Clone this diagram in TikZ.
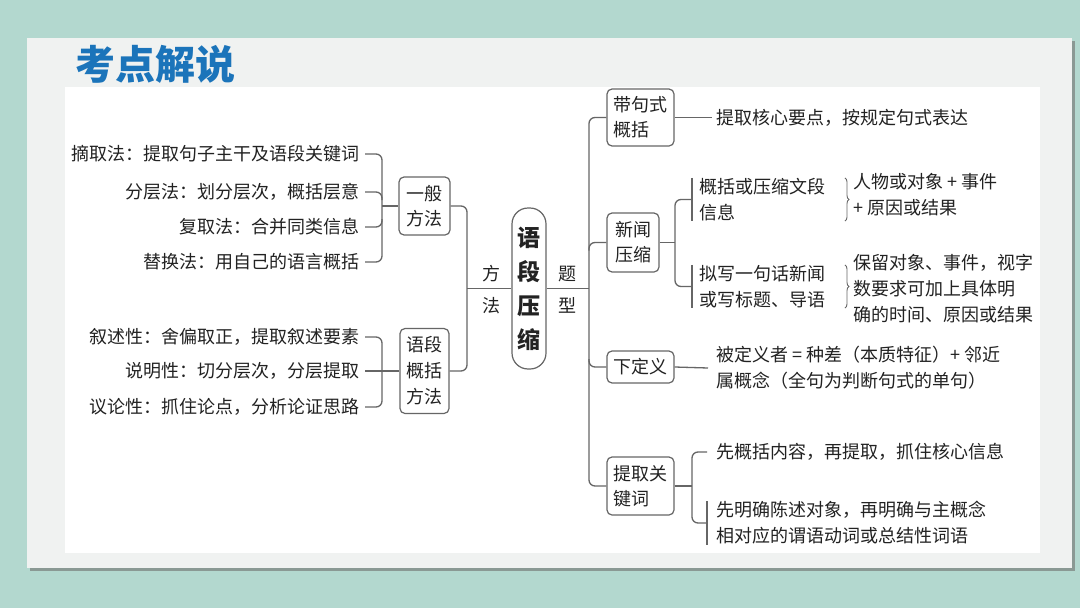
\documentclass[tikz,border=0pt]{standalone}
\usepackage{fontspec}
\setmainfont{Noto Sans CJK SC}
\usetikzlibrary{decorations.pathreplacing,calc}
\definecolor{bgteal}{HTML}{B3D8CF}
\definecolor{cardc}{HTML}{F0F2F1}
\definecolor{shadowc}{HTML}{8A9994}
\definecolor{titleblue}{HTML}{1B74BA}
\definecolor{linec}{HTML}{666666}
\definecolor{txt}{HTML}{222222}
\begin{document}
\begin{tikzpicture}[x=1pt,y=-1pt,
  every node/.style={text=txt, font=\fontsize{18}{26}\selectfont},
  item/.style={inner sep=0pt, anchor=east},
  rtext/.style={inner sep=0pt, anchor=west, align=left},
  box/.style={draw=linec, line width=1.2pt, rounded corners=5pt, inner sep=0pt, align=left, font=\fontsize{18}{25}\selectfont},
  cbox/.style={draw=linec, line width=1.2pt, rounded corners=16pt, inner sep=0pt, align=center,
     minimum width=34pt, minimum height=161pt, font=\fontsize{23}{34}\selectfont\bfseries},
  vlabel/.style={inner sep=0pt, align=center, font=\fontsize{18}{32}\selectfont},
  conn/.style={draw=linec, line width=1.3pt, rounded corners=6pt},
  barline/.style={draw=linec, line width=1.3pt},
  brc/.style={draw=linec, line width=0.9pt, decorate, decoration={brace, amplitude=4pt}},
]
\useasboundingbox (0,0) rectangle (1080,608);
\fill[bgteal] (0,0) rectangle (1080,608);
\fill[shadowc] (30,41) rectangle (1075,571);
\fill[cardc] (27,38) rectangle (1072,568);
\fill[white] (65,87) rectangle (1040,553);

\node[text=titleblue, font=\fontsize{40}{40}\selectfont\bfseries, inner sep=0pt] (title) at (155,64) {考点解说};

% left items
\node[item] (l1) at (360,154) {摘取法：提取句子主干及语段关键词};
\node[item] (l2) at (360,192) {分层法：划分层次，概括层意};
\node[item] (l3) at (360,227) {复取法：合并同类信息};
\node[item] (l4) at (360,262) {替换法：用自己的语言概括};
\node[item] (m1) at (360,337) {叙述性：舍偏取正，提取叙述要素};
\node[item] (m2) at (360,371) {说明性：切分层次，分层提取};
\node[item] (m3) at (360,407) {议论性：抓住论点，分析论证思路};

\node[box, minimum width=51pt, minimum height=58pt] (g1) at (424.5,206) {一般\\方法};
\node[box, minimum width=49pt, minimum height=85pt, font=\fontsize{18}{26}\selectfont] (g2) at (424.5,371) {语段\\概括\\方法};

\node[cbox] (c) at (529,288.5) {语\\段\\压\\缩};
\node[vlabel] (lf) at (491,290) {方\\法};
\node[vlabel] (lt) at (567,290) {题\\型};

% right boxes
\node[box, minimum width=67pt, minimum height=57pt] (r1) at (640.5,117.5) {带句式\\概括};
\node[box, minimum width=52pt, minimum height=59pt] (r2) at (633,242.5) {新闻\\压缩};
\node[box, minimum width=67pt, minimum height=32pt] (r3) at (640.5,367) {下定义};
\node[box, minimum width=67pt, minimum height=58pt] (r4) at (640.5,486) {提取关\\键词};

% right texts
\node[rtext] (t1) at (716,117.5) {提取核心要点，按规定句式表达};
\node[rtext] (n1) at (699,199.5) {概括或压缩文段\\信息};
\node[rtext] (n2) at (699,286.5) {拟写一句话新闻\\或写标题、导语};
\node[rtext] (n1r) at (853,195) {人物或对象 + 事件\\+ 原因或结果};
\node[rtext] (n2r) at (853,289) {保留对象、事件，视字\\数要求可加上具体明\\确的时间、原因或结果};
\node[rtext] (t3) at (716,368) {被定义者 = 种差（本质特征）+ 邻近\\属概念（全句为判断句式的单句）};
\node[rtext] (k1) at (716,452) {先概括内容，再提取，抓住核心信息};
\node[rtext] (k2) at (716,523) {先明确陈述对象，再明确与主概念\\相对应的谓语动词或总结性词语};

% coordinates
\coordinate (lb) at (382,0);
\coordinate (mx) at (467,0);
\coordinate (rx) at (589,0);
\coordinate (nx) at (675,0);
\coordinate (kx) at (692,0);
\coordinate (bx) at (845,0);

% left brackets
\draw[conn] ([xshift=5pt]l1.east) -| (lb |- l4.east) -- ([xshift=5pt]l4.east);
\draw[conn] ([xshift=5pt]l2.east) -| ($(lb |- l2.east)+(0,8)$);
\draw[conn] ([xshift=5pt]l3.east) -| ($(lb |- l3.east)+(0,-8)$);
\draw[conn] (lb |- g1.west) -- (g1.west);
\draw[conn] ([xshift=5pt]m1.east) -| (lb |- m3.east) -- ([xshift=5pt]m3.east);
\draw[conn] ([xshift=5pt]m2.east) -- (g2.west);

% middle
\draw[conn] (g1.east) -| (mx |- g2.east) -- (g2.east);
\draw[conn] (mx |- c.west) -- (c.west);
\draw[conn] (c.east) -- (rx |- c.east);

% right trunk
\draw[conn] (r1.west) -| (rx |- r4.west) -- (r4.west);
\draw[conn] (r2.west) -| ($(rx |- r2.west)+(0,8)$);
\draw[conn] (r3.west) -| ($(rx |- r3.west)+(0,-8)$);

\draw[conn] (r1.east) -- ([xshift=-4pt]t1.west);
\draw[conn] (r3.east) -- ([xshift=-8pt]t3.west);

% news
\draw[conn] (r2.east) -- (nx |- r2.east);
\draw[conn] ([xshift=-7pt]n1.west) -| (nx |- n2.west) -- ([xshift=-7pt]n2.west);
\draw[barline] ([xshift=-7pt]n1.north west) -- ([xshift=-7pt]n1.south west);
\draw[barline] ([xshift=-7pt]n2.north west) -- ([xshift=-7pt]n2.south west);
\draw[brc] (bx |- n1.north) -- (bx |- n1.south);
\draw[brc] (bx |- n2.north) -- (bx |- n2.south);

% keywords
\draw[conn] (r4.east) -- (kx |- r4.east);
\draw[conn] ([xshift=-9pt]k1.west) -| (kx |- k2.west) -- ([xshift=-9pt]k2.west);
\draw[barline] ([xshift=-9pt]k2.north west) -- ([xshift=-9pt]k2.south west);
\end{tikzpicture}
\end{document}
